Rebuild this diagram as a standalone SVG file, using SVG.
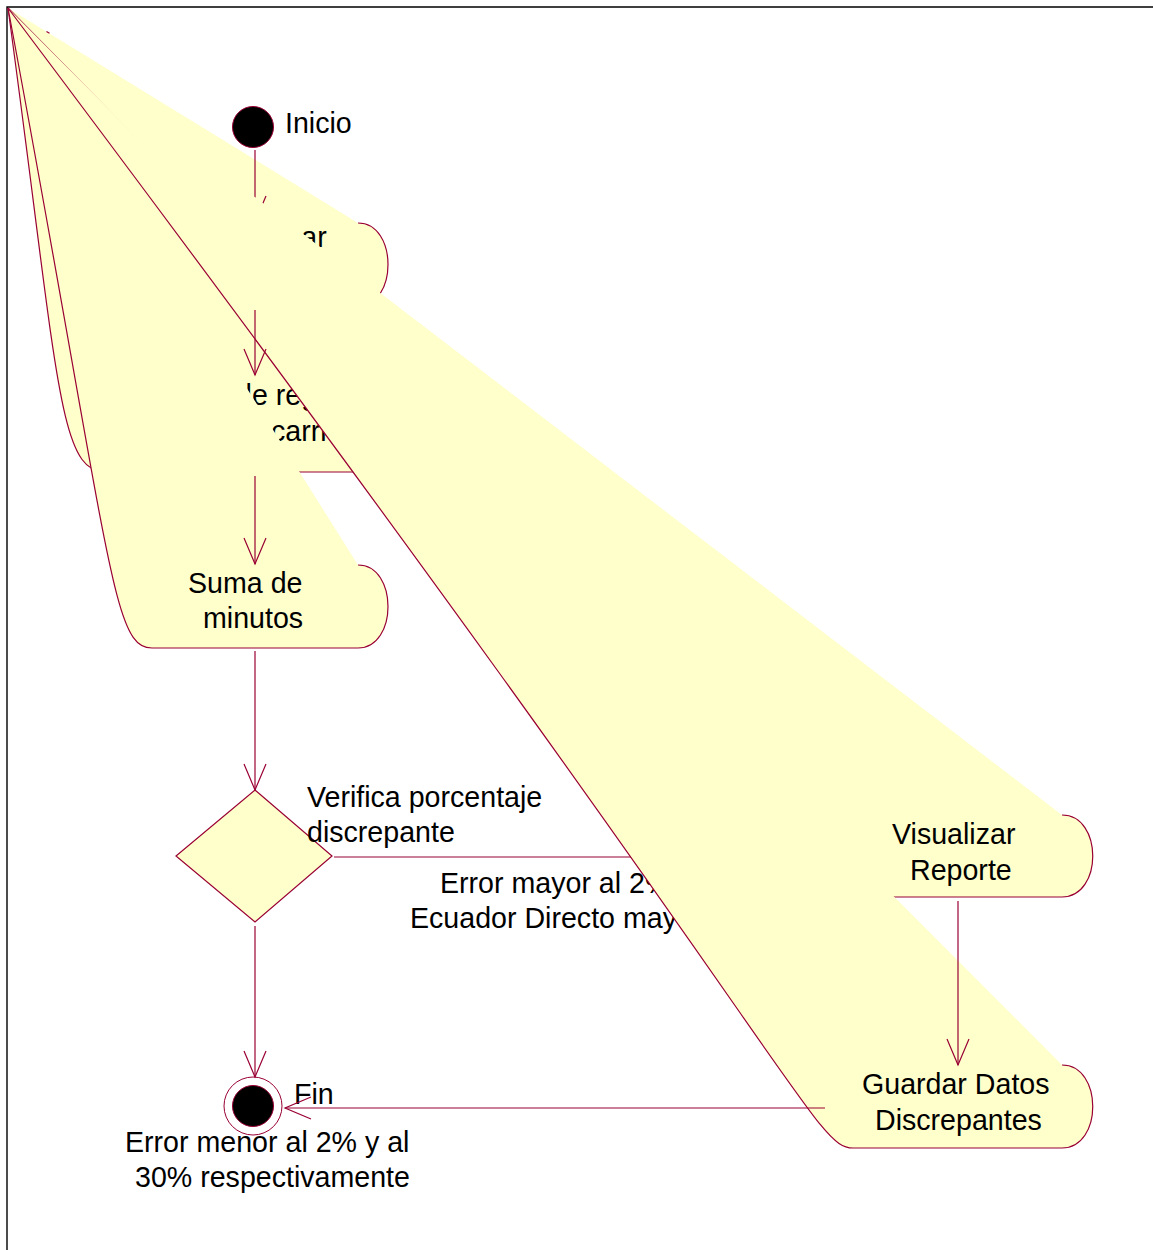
<svg xmlns="http://www.w3.org/2000/svg" width="1153" height="1250" viewBox="0 0 1153 1250">
  <style>
    .act { fill: #FFFFCC; stroke: none; }
    .edge { fill: none; stroke: #990033; stroke-width: 1.2; }
    .tr { fill: none; stroke: #990033; stroke-width: 1.2; }
    .lbl { font-family: "Liberation Sans", Arial, sans-serif; font-size: 28.6px; fill: #000; }
    .frame { stroke: #000; stroke-width: 1.4; fill: none; }
  </style>
  <defs>
    <marker id="open" viewBox="-28 -13 30 26" refX="0" refY="0" markerWidth="30" markerHeight="26" markerUnits="userSpaceOnUse" orient="auto">
      <path d="M-26,-11 L0,0 L-26,11" fill="none" stroke="#990033" stroke-width="1.2"/>
    </marker>
  </defs>

  <rect width="1153" height="1250" fill="#fff"/>
  <path class="frame" d="M7,1250 L7,7 L1153,7"/>

  <!-- activity: Seleccionar -->
  <g id="act-seleccionar">
    <path class="act" d="M8,8 L358,223 C398,223 398,306 358,306 L152,306 C112,306 112,223 8,8 Z"/>
    <path class="edge" d="M358,223 C398,223 398,306 358,306 L152,306 C112,306 112,223 8,8"/>
    <path class="edge" d="M46.5,31.5 L49.5,33.3"/>
    <text class="lbl" x="252" y="247" text-anchor="middle">Seleccionar</text>
  </g>

  <!-- start node -->
  <g id="inicio">
    <circle cx="253" cy="127" r="20.5" fill="#000" stroke="#990033" stroke-width="1"/>
    <text class="lbl" x="285" y="133">Inicio</text>
  </g>

  <g id="connector-inicio">
    <line class="tr" x1="255" y1="150" x2="255" y2="222" marker-end="url(#open)"/>
  </g>

  <!-- activity: registros por carrier -->
  <g id="act-registros">
    <path class="act" d="M8,8 L405,375 C452,375 452,472 405,472 L105,472 C58,472 58,375 8,8 Z"/>
    <path class="edge" d="M405,375 C452,375 452,472 405,472 L105,472 C58,472 58,375 8,8"/>
    <text class="lbl" x="236" y="405">de registros</text>
    <text class="lbl" x="271" y="441">carrier</text>
  </g>

  <!-- activity: Suma de minutos -->
  <g id="act-suma">
    <path class="act" d="M8,8 L358,565 C398,565 398,648 358,648 L152,648 C112,648 112,565 8,8 Z"/>
    <path class="edge" d="M358,565 C398,565 398,648 358,648 L152,648 C112,648 112,565 8,8"/>
    <text class="lbl" x="188" y="593">Suma de</text>
    <text class="lbl" x="203" y="628">minutos</text>
  </g>

  <!-- activity: Visualizar Reporte -->
  <g id="act-visualizar">
    <path class="act" d="M8,8 L1062,815 C1103,815 1103,897 1062,897 L853,897 C805,897 805,815 8,8 Z"/>
    <path class="edge" d="M1062,815 C1103,815 1103,897 1062,897 L853,897 C805,897 805,815 8,8"/>
    <text class="lbl" x="892" y="844">Visualizar</text>
    <text class="lbl" x="910" y="880">Reporte</text>
  </g>

  <!-- decision branch towards the report -->
  <g id="connector-mayor">
    <line class="tr" x1="334" y1="857" x2="822" y2="857" marker-end="url(#open)"/>
    <text class="lbl" x="440" y="893">Error mayor al 2% y al</text>
    <text class="lbl" x="410" y="928">Ecuador Directo mayor al 30%</text>
  </g>

  <!-- activity: Guardar Datos Discrepantes -->
  <g id="act-guardar">
    <path class="act" d="M8,8 L1062,1065 C1103,1065 1103,1148 1062,1148 L853,1148 C812,1148 803,1065 8,8 Z"/>
    <path class="edge" d="M1062,1065 C1103,1065 1103,1148 1062,1148 L853,1148 C812,1148 803,1065 8,8"/>
    <text class="lbl" x="862" y="1094">Guardar Datos</text>
    <text class="lbl" x="875" y="1130">Discrepantes</text>
  </g>

  <!-- decision -->
  <g id="decision">
    <path d="M255,790 L332,856 L255,922 L176,856 Z" fill="#FFFFCC" stroke="#990033" stroke-width="1.2"/>
    <text class="lbl" x="307" y="807">Verifica porcentaje</text>
    <text class="lbl" x="307" y="842">discrepante</text>
  </g>

  <!-- end node -->
  <g id="fin">
    <circle cx="253" cy="1106" r="29" fill="#fff" stroke="#990033" stroke-width="1"/>
    <circle cx="253" cy="1106" r="20.5" fill="#000" stroke="#990033" stroke-width="1"/>
    <text class="lbl" x="294" y="1104">Fin</text>
    <text class="lbl" x="125" y="1152">Error menor al 2% y al</text>
    <text class="lbl" x="135" y="1187">30% respectivamente</text>
  </g>

  <g id="connectors">
    <line class="tr" x1="255" y1="310" x2="255" y2="375" marker-end="url(#open)"/>
    <line class="tr" x1="255" y1="476" x2="255" y2="564" marker-end="url(#open)"/>
    <line class="tr" x1="255" y1="651" x2="255" y2="790" marker-end="url(#open)"/>
    <line class="tr" x1="255" y1="926" x2="255" y2="1077" marker-end="url(#open)"/>
    <line class="tr" x1="958" y1="901" x2="958" y2="1065" marker-end="url(#open)"/>
    <line class="tr" x1="825" y1="1108" x2="285" y2="1108" marker-end="url(#open)"/>
  </g>
</svg>
